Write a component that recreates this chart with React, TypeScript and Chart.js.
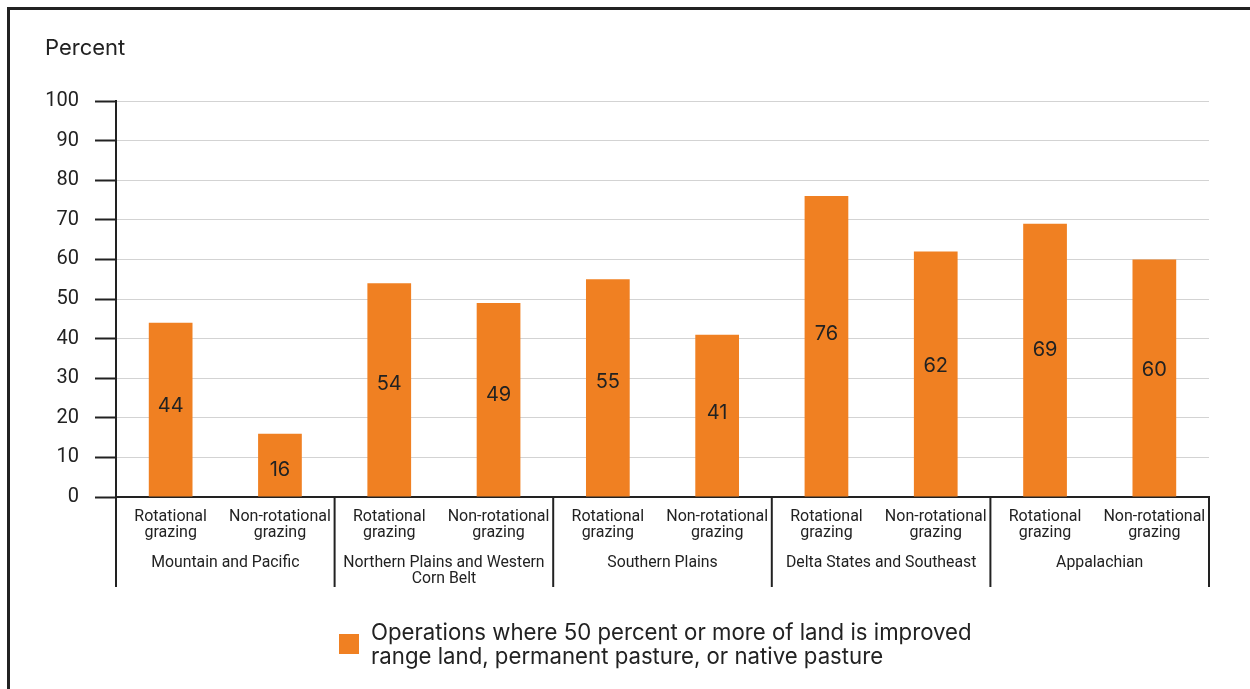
import React, { useEffect, useRef } from "react";
import { Chart, registerables } from "chart.js";

Chart.register(...registerables);

const subLabels: string[][] = [
  ["Rotational", "grazing"], ["Non-rotational", "grazing"],
  ["Rotational", "grazing"], ["Non-rotational", "grazing"],
  ["Rotational", "grazing"], ["Non-rotational", "grazing"],
  ["Rotational", "grazing"], ["Non-rotational", "grazing"],
  ["Rotational", "grazing"], ["Non-rotational", "grazing"],
];
const groupLabels: string[][] = [
  ["Mountain and Pacific"],
  ["Northern Plains and Western", "Corn Belt"],
  ["Southern Plains"],
  ["Delta States and Southeast"],
  ["Appalachian"],
];
const groupSizes = [2, 2, 2, 2, 2];
const values = [44, 16, 54, 49, 55, 41, 76, 62, 69, 60];
const seriesLabel = ["Operations where 50 percent or more of land is improved", "range land, permanent pasture, or native pasture"];
const yTicks = [0, 10, 20, 30, 40, 50, 60, 70, 80, 90, 100];

const ORANGE = "#F08022";
const TEXT = "#222222";
const FONT = "Roboto";
const FONT2 = "Inter";

const groupPlugin = {
  id: "groupPlugin",
  afterDraw(chart: any) {
    const ctx = chart.ctx;
    const xs = chart.scales.x;
    const area = chart.chartArea;
    const half = (xs.getPixelForValue(1) - xs.getPixelForValue(0)) / 2;
    ctx.save();
    ctx.strokeStyle = TEXT;
    ctx.lineWidth = 2;
    let start = 0;
    const bounds: number[] = [xs.getPixelForValue(0) - half];
    groupSizes.forEach((n) => {
      const end = start + n - 1;
      bounds.push(xs.getPixelForValue(end) + half);
      start += n;
    });
    bounds.forEach((bx) => {
      ctx.beginPath();
      ctx.moveTo(bx, area.bottom);
      ctx.lineTo(bx, area.bottom + 90);
      ctx.stroke();
    });
    ctx.fillStyle = TEXT;
    ctx.font = `15.8px ${FONT}`;
    ctx.textAlign = "center";
    ctx.textBaseline = "middle";
    groupLabels.forEach((lines, i) => {
      const cx = (bounds[i] + bounds[i + 1]) / 2;
      lines.forEach((ln, j) => ctx.fillText(ln, cx, area.bottom + 66 + j * 16));
    });
    ctx.restore();
  },
};

const valuePlugin = {
  id: "valuePlugin",
  afterDatasetsDraw(chart: any) {
    const ctx = chart.ctx;
    const meta = chart.getDatasetMeta(0);
    ctx.save();
    ctx.fillStyle = TEXT;
    ctx.font = `20px ${FONT2}`;
    ctx.textAlign = "center";
    ctx.textBaseline = "middle";
    meta.data.forEach((bar: any, i: number) => {
      const p = bar.getProps(["x", "y", "base"], true);
      ctx.fillText(String(values[i]), p.x, p.base + (p.y - p.base) * 0.57 + 9);
    });
    ctx.restore();
  },
};

export default function App() {
  const ref = useRef<HTMLCanvasElement>(null);
  useEffect(() => {
    if (!ref.current) return;
    const chart = new Chart(ref.current, {
      type: "bar",
      data: {
        labels: subLabels,
        datasets: [
          {
            label: seriesLabel.join(" "),
            data: values,
            backgroundColor: ORANGE,
            categoryPercentage: 1,
            barPercentage: 0.4,
          },
        ],
      },
      options: {
        animation: false,
        responsive: false,
        maintainAspectRatio: false,
        devicePixelRatio: 1,
        layout: { padding: { left: 0, right: 41, top: 101, bottom: 102 } },
        plugins: { legend: { display: false }, tooltip: { enabled: false } },
        scales: {
          x: {
            grid: { display: false, drawTicks: false },
            border: { color: TEXT, width: 2 },
            ticks: {
              color: TEXT,
              font: { family: FONT, size: 16, lineHeight: 1.0 },
              padding: 12,
              maxRotation: 0,
              autoSkip: false,
            },
            afterFit(scale: any) {
              scale.height = 90;
            },
          },
          y: {
            min: 0,
            max: 100,
            afterBuildTicks(scale: any) {
              scale.ticks = yTicks.map((v) => ({ value: v }));
            },
            grid: { color: "#d3d3d3", lineWidth: 1, tickColor: TEXT, tickLength: 21, tickWidth: 2 },
            border: { color: TEXT, width: 2 },
            ticks: { color: TEXT, font: { family: FONT, size: 20 }, padding: 16 },
            afterFit(scale: any) {
              scale.width = 116;
            },
          },
        },
      },
      plugins: [groupPlugin, valuePlugin],
    });
    return () => chart.destroy();
  }, []);

  return (
    <div style={{ position: "fixed", left: 0, top: 0, width: 1250, height: 689, overflow: "hidden", background: "#fff" }}>
      <div style={{ position: "absolute", left: 7, top: 7, width: 1300, height: 800, borderTop: "3px solid #222", borderLeft: "3px solid #222" }} />
      <canvas ref={ref} width={1250} height={689} style={{ position: "absolute", left: 0, top: 0 }} />
      <div style={{ position: "absolute", left: 45, top: 34, fontFamily: FONT2, fontSize: 22, lineHeight: "26px", color: TEXT }}>Percent</div>
      <div style={{ position: "absolute", left: 339, top: 620, display: "flex", alignItems: "center" }}>
        <div style={{ width: 20, height: 20, background: ORANGE, marginRight: 12 }} />
        <div style={{ fontFamily: FONT2, fontSize: 22.2, lineHeight: "24px", color: TEXT }}>
          {seriesLabel.map((s, i) => (
            <div key={i}>{s}</div>
          ))}
        </div>
      </div>
    </div>
  );
}
